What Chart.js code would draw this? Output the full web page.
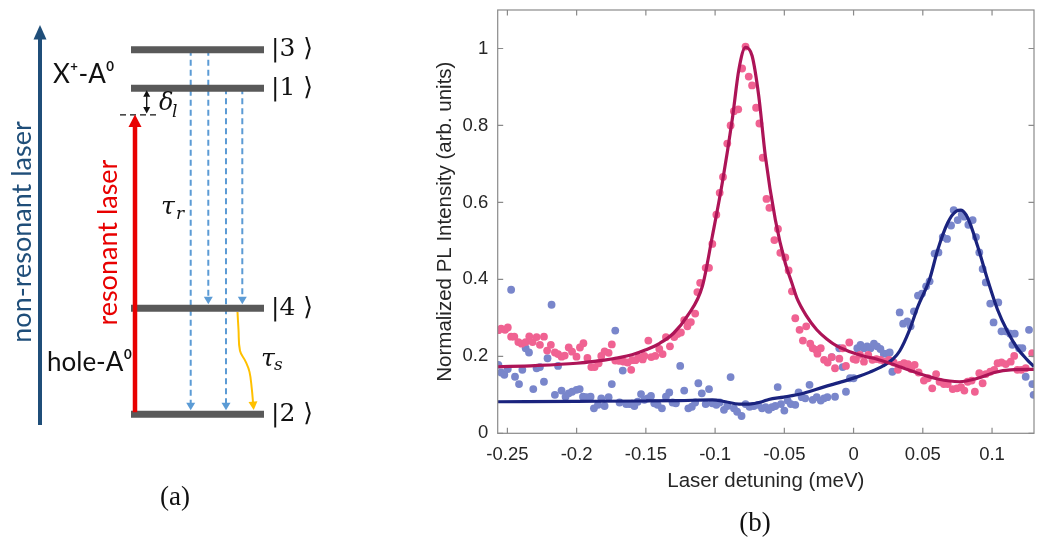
<!DOCTYPE html>
<html>
<head>
<meta charset="utf-8">
<script src="https://cdn.jsdelivr.net/npm/chart.js@4.4.1/dist/chart.umd.min.js"></script>
<style>
  html, body { margin: 0; padding: 0; background: #fff; }
  #wrap { position: relative; width: 1038px; height: 545px; overflow: hidden; }
  #diagram { position: absolute; left: 0; top: 0; width: 340px; height: 545px; }
  #plot { position: absolute; left: 400px; top: 0; width: 638px; height: 545px; }
  .cap { position: absolute; font-family: 'Liberation Serif', serif; font-size: 27px; color: #111;
         transform: translate(-50%, -50%); white-space: nowrap; }
</style>
</head>
<body>
<div id="wrap">
  <canvas id="diagram" width="340" height="545"></canvas>
  <canvas id="plot" width="638" height="545"></canvas>
  <div class="cap" style="left:175px;top:496px">(a)</div>
  <div class="cap" style="left:755px;top:522px">(b)</div>
</div>
<script>
// ---- panel (b) data: laser detuning (meV) vs normalized PL intensity ----
const xTicks = [-0.25, -0.2, -0.15, -0.1, -0.05, 0, 0.05, 0.1];
const yTicks = [0, 0.2, 0.4, 0.6, 0.8, 1];

// measured points, resonance 1 (pink)
const pinkX = [-0.2565, -0.2545, -0.2517, -0.2497, -0.2473, -0.2450, -0.2421, -0.2397, -0.2368, -0.2342,
  -0.2318, -0.2289, -0.2265, -0.2236, -0.2213, -0.2186, -0.2157, -0.2134, -0.2109, -0.2086,
  -0.2057, -0.2033, -0.2001, -0.1976, -0.1951, -0.1922, -0.1894, -0.1870, -0.1841, -0.1822,
  -0.1798, -0.1769, -0.1746, -0.1721, -0.1690, -0.1659, -0.1631, -0.1606, -0.1599, -0.1575,
  -0.1552, -0.1523, -0.1511, -0.1482, -0.1461, -0.1432, -0.1403, -0.1379, -0.1355, -0.1326,
  -0.1295, -0.1272, -0.1247, -0.1223, -0.1200, -0.1175, -0.1144, -0.1128, -0.1108, -0.1068,
  -0.1044, -0.1020, -0.0991, -0.0967, -0.0943, -0.0912, -0.0888, -0.0864, -0.0833, -0.0805,
  -0.0780, -0.0757, -0.0733, -0.0704, -0.0680, -0.0656, -0.0629, -0.0608, -0.0572, -0.0546,
  -0.0529, -0.0493, -0.0469, -0.0445, -0.0421, -0.0390, -0.0366, -0.0342, -0.0313, -0.0295,
  -0.0270, -0.0261, -0.0237, -0.0213, -0.0187, -0.0158, -0.0134, -0.0103, -0.0079, -0.0055,
  -0.0031, 0.0000, 0.0017, 0.0046, 0.0075, 0.0106, 0.0136, 0.0165, 0.0194, 0.0226,
  0.0256, 0.0290, 0.0320, 0.0335, 0.0364, 0.0393, 0.0417, 0.0441, 0.0470, 0.0508,
  0.0537, 0.0568, 0.0596, 0.0621, 0.0652, 0.0680, 0.0716, 0.0747, 0.0776, 0.0800,
  0.0824, 0.0853, 0.0876, 0.0908, 0.0932, 0.0955, 0.0987, 0.1016, 0.1040, 0.1068,
  0.1099, 0.1135, 0.1160, 0.1183, 0.1212, 0.1243, 0.1290];
const pinkY = [0.268, 0.272, 0.269, 0.275, 0.251, 0.251, 0.237, 0.233, 0.237, 0.252,
  0.237, 0.250, 0.230, 0.251, 0.215, 0.230, 0.210, 0.206, 0.199, 0.202,
  0.223, 0.212, 0.199, 0.223, 0.234, 0.196, 0.172, 0.172, 0.182, 0.201,
  0.213, 0.209, 0.231, 0.189, 0.188, 0.186, 0.184, 0.165, 0.190, 0.190,
  0.197, 0.192, 0.201, 0.241, 0.198, 0.201, 0.219, 0.206, 0.250, 0.226,
  0.250, 0.258, 0.262, 0.294, 0.278, 0.289, 0.311, 0.367, 0.391, 0.430,
  0.430, 0.492, 0.568, 0.625, 0.666, 0.753, 0.800, 0.837, 0.842, 0.948,
  1.005, 0.927, 0.904, 0.846, 0.805, 0.716, 0.609, 0.586, 0.502, 0.531,
  0.469, 0.457, 0.423, 0.369, 0.299, 0.269, 0.241, 0.278, 0.233, 0.221,
  0.217, 0.207, 0.221, 0.191, 0.184, 0.198, 0.169, 0.194, 0.221, 0.175,
  0.236, 0.193, 0.191, 0.204, 0.186, 0.204, 0.191, 0.193, 0.191, 0.186,
  0.191, 0.184, 0.165, 0.178, 0.182, 0.180, 0.167, 0.178, 0.158, 0.137,
  0.143, 0.117, 0.154, 0.134, 0.128, 0.128, 0.115, 0.117, 0.120, 0.111,
  0.134, 0.137, 0.108, 0.156, 0.130, 0.154, 0.160, 0.165, 0.182, 0.184,
  0.180, 0.186, 0.201, 0.165, 0.165, 0.169, 0.208];

// measured points, resonance 2 (blue)
const blueX = [-0.2565, -0.2545, -0.2522, -0.2497, -0.2473, -0.2445, -0.2416, -0.2392, -0.2368, -0.2344,
  -0.2313, -0.2289, -0.2265, -0.2236, -0.2210, -0.2181, -0.2157, -0.2134, -0.2109, -0.2080,
  -0.2057, -0.2033, -0.2001, -0.1978, -0.1954, -0.1930, -0.1899, -0.1875, -0.1846, -0.1822,
  -0.1798, -0.1769, -0.1746, -0.1721, -0.1690, -0.1667, -0.1642, -0.1619, -0.1600, -0.1583,
  -0.1559, -0.1535, -0.1511, -0.1487, -0.1463, -0.1439, -0.1415, -0.1384, -0.1355, -0.1331,
  -0.1307, -0.1283, -0.1252, -0.1223, -0.1193, -0.1168, -0.1144, -0.1121, -0.1096, -0.1068,
  -0.1044, -0.1020, -0.0991, -0.0967, -0.0936, -0.0912, -0.0888, -0.0864, -0.0841, -0.0809,
  -0.0780, -0.0751, -0.0721, -0.0690, -0.0661, -0.0635, -0.0613, -0.0589, -0.0565, -0.0548,
  -0.0524, -0.0500, -0.0476, -0.0453, -0.0421, -0.0397, -0.0374, -0.0349, -0.0318, -0.0295,
  -0.0266, -0.0237, -0.0213, -0.0189, -0.0158, -0.0134, -0.0103, -0.0079, -0.0055, -0.0026,
  0.0000, 0.0027, 0.0050, 0.0075, 0.0098, 0.0122, 0.0147, 0.0170, 0.0194, 0.0218,
  0.0242, 0.0261, 0.0280, 0.0333, 0.0358, 0.0388, 0.0412, 0.0436, 0.0465, 0.0494,
  0.0524, 0.0549, 0.0585, 0.0613, 0.0644, 0.0675, 0.0704, 0.0723, 0.0752, 0.0781,
  0.0800, 0.0829, 0.0860, 0.0884, 0.0908, 0.0932, 0.0955, 0.0987, 0.1011, 0.1045,
  0.1068, 0.1099, 0.1131, 0.1147, 0.1164, 0.1195, 0.1219, 0.1243, 0.1267, 0.1291, 0.1300];
const blueY = [0.178, 0.158, 0.152, 0.167, 0.373, 0.147, 0.128, 0.165, 0.221, 0.210,
  0.115, 0.169, 0.172, 0.134, 0.195, 0.334, 0.100, 0.175, 0.111, 0.095,
  0.104, 0.108, 0.113, 0.115, 0.095, 0.094, 0.095, 0.065, 0.074, 0.091,
  0.071, 0.094, 0.128, 0.267, 0.080, 0.163, 0.076, 0.076, 0.077, 0.071,
  0.082, 0.102, 0.087, 0.091, 0.097, 0.078, 0.074, 0.065, 0.095, 0.106,
  0.080, 0.078, 0.175, 0.111, 0.065, 0.069, 0.080, 0.130, 0.104, 0.076,
  0.115, 0.078, 0.074, 0.080, 0.061, 0.071, 0.146, 0.065, 0.056, 0.045,
  0.076, 0.069, 0.071, 0.074, 0.065, 0.068, 0.061, 0.068, 0.071, 0.120,
  0.076, 0.059, 0.085, 0.076, 0.074, 0.106, 0.094, 0.091, 0.126, 0.087,
  0.094, 0.085, 0.091, 0.094, 0.198, 0.095, 0.221, 0.172, 0.108, 0.143,
  0.143, 0.221, 0.230, 0.221, 0.226, 0.221, 0.233, 0.226, 0.219, 0.207,
  0.207, 0.210, 0.160, 0.314, 0.285, 0.291, 0.278, 0.317, 0.358, 0.363,
  0.382, 0.395, 0.467, 0.470, 0.510, 0.505, 0.540, 0.580, 0.554, 0.568,
  0.563, 0.542, 0.554, 0.510, 0.470, 0.427, 0.392, 0.337, 0.288, 0.340,
  0.265, 0.265, 0.259, 0.230, 0.259, 0.221, 0.221, 0.147, 0.269, 0.128, 0.100];

// fitted curves
const pinkFitX = [-0.257, -0.23, -0.20, -0.18, -0.16, -0.15, -0.14, -0.13, -0.12, -0.1092,
  -0.102, -0.0948, -0.0876, -0.0828, -0.078, -0.0733, -0.0685, -0.0637, -0.0565, -0.0493,
  -0.0445, -0.041, -0.0338, -0.0266, -0.0194, -0.0122, -0.0026, 0.007, 0.0165, 0.0261,
  0.034, 0.0465, 0.0608, 0.0764, 0.0896, 0.1016, 0.1135, 0.1303];
const pinkFitY = [0.173, 0.176, 0.182, 0.190, 0.204, 0.217, 0.234, 0.260, 0.305, 0.382,
  0.512, 0.651, 0.816, 0.946, 1.003, 0.981, 0.877, 0.720, 0.555, 0.442,
  0.390, 0.352, 0.304, 0.269, 0.245, 0.227, 0.212, 0.201, 0.193, 0.182,
  0.172, 0.156, 0.141, 0.134, 0.143, 0.158, 0.165, 0.166];

const blueFitX = [-0.257, -0.20, -0.15, -0.126, -0.102, -0.0924, -0.0828, -0.0757, -0.0661, -0.0613,
  -0.0505, -0.0361, -0.0218, -0.0074, 0.0022, 0.0118, 0.0213, 0.0285, 0.0333, 0.0400,
  0.0465, 0.0548, 0.0608, 0.068, 0.074, 0.0776, 0.0824, 0.0896, 0.0968, 0.104,
  0.1111, 0.1183, 0.1254, 0.1303];
const blueFitY = [0.082, 0.083, 0.084, 0.085, 0.087, 0.082, 0.076, 0.076, 0.082, 0.088,
  0.094, 0.104, 0.120, 0.135, 0.146, 0.159, 0.175, 0.193, 0.214, 0.265,
  0.330, 0.399, 0.477, 0.547, 0.577, 0.580, 0.560, 0.486, 0.399, 0.321,
  0.265, 0.221, 0.191, 0.173];

// ---- panel (a) data: level scheme (energy in arbitrary units) ----
const levelNames = ['|3 \u27E9', '|1 \u27E9', '|4 \u27E9', '|2 \u27E9'];
const levelEnergy = [3.44, 3.075, 1.0, 0];
const laserEnergy = 2.824;
// radiative transitions tau_r: [from level, to level]
const radiative = [['|3', '|2'], ['|3', '|4'], ['|1', '|2'], ['|1', '|4']];

const zip = (xs, ys) => xs.map((x, i) => ({ x: x, y: ys[i] }));
const levelOf = name => levelEnergy[levelNames.findIndex(n => n.startsWith(name))];

Chart.defaults.font.family = "'Liberation Sans', Arial, sans-serif";

// ---------- panel (a) ----------
const levelLeft = 131, levelRight = 264;
const transX = [190.7, 208.3, 226, 242.3];
const dashBlue = '#5b9bd5';
const navy = '#1f4e79';
const red = '#e80000';

const diagramSets = [];
// resonant laser (on top of the levels)
diagramSets.push({ data: [{ x: 135, y: 0.02 }, { x: 135, y: laserEnergy - 0.11 }], borderColor: red,
  borderWidth: 4.5, arrow: { len: 12, half: 6.5 } });
levelNames.forEach((n, i) => {
  diagramSets.push({ data: [{ x: levelLeft, y: levelEnergy[i] }, { x: levelRight, y: levelEnergy[i] }],
    borderColor: '#595959', borderWidth: 7 });
});
radiative.forEach((t, i) => {
  diagramSets.push({ data: [{ x: transX[i], y: levelOf(t[0]) }, { x: transX[i], y: levelOf(t[1]) + 0.105 }],
    borderColor: dashBlue, borderWidth: 2, borderDash: [6, 4], arrow: { len: 7, half: 4.5 } });
});
// spin relaxation tau_s (wavy)
diagramSets.push({ data: [{ x: 237.5, y: 0.965 }, { x: 238.5, y: 0.80 }, { x: 240, y: 0.60 }, { x: 245.5, y: 0.50 },
  { x: 249.5, y: 0.40 }, { x: 251.8, y: 0.24 }, { x: 253, y: 0.115 }],
  borderColor: '#ffc000', borderWidth: 2, tension: 0.4, arrow: { len: 8, half: 4.5 } });
// non-resonant laser
diagramSets.push({ data: [{ x: 40, y: -0.10 }, { x: 40, y: 3.54 }], borderColor: navy, borderWidth: 4,
  arrow: { len: 14, half: 6.5 } });
// laser energy (dashed) and detuning delta_l
diagramSets.push({ data: [{ x: 120, y: laserEnergy }, { x: 158, y: laserEnergy }], borderColor: '#111',
  borderWidth: 1.3, borderDash: [6, 4] });
diagramSets.push({ data: [{ x: 146.7, y: 3.0 }, { x: 146.7, y: 2.895 }], borderColor: '#111', borderWidth: 1.3,
  arrow: { len: 6, half: 3.5, both: true } });

diagramSets.forEach(ds => { ds.showLine = true; ds.pointRadius = 0; ds.borderCapStyle = 'butt'; });

const arrowHeads = {
  id: 'arrowHeads',
  afterDatasetsDraw(chart) {
    const ctx = chart.ctx;
    chart.data.datasets.forEach((ds, i) => {
      if (!ds.arrow) return;
      const pts = chart.getDatasetMeta(i).data;
      const head = (p, q) => {
        const ang = Math.atan2(p.y - q.y, p.x - q.x);
        ctx.save();
        ctx.translate(p.x, p.y);
        ctx.rotate(ang);
        ctx.beginPath();
        ctx.moveTo(ds.arrow.len, 0);
        ctx.lineTo(-0.5, -ds.arrow.half);
        ctx.lineTo(-0.5, ds.arrow.half);
        ctx.closePath();
        ctx.fillStyle = ds.borderColor;
        ctx.fill();
        ctx.restore();
      };
      const n = pts.length;
      head(pts[n - 1], pts[n - 2]);
      if (ds.arrow.both) head(pts[0], pts[1]);
    });
  }
};

const serif = "'DejaVu Serif', serif";
const diagramText = [
  { text: 'non-resonant laser', x: 22, y: 1.72, font: "27px Lato, 'Open Sans', sans-serif", color: navy, rot: true },
  { text: 'resonant laser', x: 108, y: 1.62, font: "27px Lato, 'Open Sans', sans-serif", color: red, rot: true },
  { text: 'X\u207A-A\u2070', x: 53, y: 3.2, font: "26px Lato, 'Open Sans', sans-serif", color: '#111', align: 'left' },
  { text: 'hole-A\u2070', x: 47, y: 0.49, font: "26px Lato, 'Open Sans', sans-serif", color: '#111', align: 'left' },
  { text: '\u03C4', x: 161, y: 1.95, font: 'italic 25px ' + serif, color: '#111', align: 'left' },
  { text: 'r', x: 176, y: 1.88, font: 'italic 17px ' + serif, color: '#111', align: 'left' },
  { text: '\u03C4', x: 261, y: 0.52, font: 'italic 25px ' + serif, color: '#111', align: 'left' },
  { text: 's', x: 274, y: 0.46, font: 'italic 17px ' + serif, color: '#111', align: 'left' },
  { text: '\u03B4', x: 159, y: 2.93, font: 'italic 24px ' + serif, color: '#111', align: 'left' },
  { text: 'l', x: 172, y: 2.85, font: 'italic 17px ' + serif, color: '#111', align: 'left' }
];
levelNames.forEach((n, i) => {
  diagramText.push({ text: n, x: 271, y: levelEnergy[i], font: '25px ' + serif, color: '#111', align: 'left' });
});

const diagramLabels = {
  id: 'diagramLabels',
  afterDraw(chart) {
    const { ctx, scales: { x, y } } = chart;
    diagramText.forEach(t => {
      ctx.save();
      ctx.font = t.font;
      ctx.fillStyle = t.color;
      ctx.textBaseline = 'middle';
      ctx.translate(x.getPixelForValue(t.x), y.getPixelForValue(t.y));
      if (t.rot) {
        ctx.rotate(-Math.PI / 2);
        ctx.textAlign = 'center';
      } else {
        ctx.textAlign = t.align || 'center';
      }
      ctx.fillText(t.text, 0, 0);
      ctx.restore();
    });
  }
};

new Chart(document.getElementById('diagram'), {
  type: 'scatter',
  data: { datasets: diagramSets },
  options: {
    responsive: false,
    animation: false,
    layout: { padding: 0 },
    plugins: { legend: { display: false }, tooltip: { enabled: false } },
    scales: {
      x: { display: false, min: 0, max: 340 },
      y: { display: false, min: -1.233, max: 3.9085 }
    }
  },
  plugins: [arrowHeads, diagramLabels]
});

// ---------- panel (b) ----------
const axisColor = '#8a8a8a';
const textColor = '#262626';
const fmt = v => String(Math.round(v * 100) / 100);

// MATLAB-like box with inward ticks
const boxTicks = {
  id: 'boxTicks',
  afterDraw(chart) {
    const { ctx, chartArea: a, scales: { x, y } } = chart;
    const L = 5.5;
    ctx.save();
    ctx.strokeStyle = axisColor;
    ctx.lineWidth = 1.2;
    ctx.strokeRect(a.left, a.top, a.right - a.left, a.bottom - a.top);
    ctx.beginPath();
    xTicks.forEach(v => {
      const px = x.getPixelForValue(v);
      ctx.moveTo(px, a.bottom); ctx.lineTo(px, a.bottom - L);
      ctx.moveTo(px, a.top); ctx.lineTo(px, a.top + L);
    });
    yTicks.forEach(v => {
      const py = y.getPixelForValue(v);
      ctx.moveTo(a.left, py); ctx.lineTo(a.left + L, py);
      ctx.moveTo(a.right, py); ctx.lineTo(a.right - L, py);
    });
    ctx.stroke();
    ctx.restore();
  }
};

new Chart(document.getElementById('plot'), {
  type: 'scatter',
  data: {
    datasets: [
      { label: 'Fit 1', data: zip(pinkFitX, pinkFitY), showLine: true, borderColor: '#ad1457', borderWidth: 3.2,
        pointRadius: 0, cubicInterpolationMode: 'monotone' },
      { label: 'Fit 2', data: zip(blueFitX, blueFitY), showLine: true, borderColor: '#1a237e', borderWidth: 3.2,
        pointRadius: 0, cubicInterpolationMode: 'monotone' },
      { label: 'Data 1', data: zip(pinkX, pinkY), backgroundColor: '#f06292', borderColor: '#f06292',
        pointRadius: 3.9, pointBorderWidth: 0 },
      { label: 'Data 2', data: zip(blueX, blueY), backgroundColor: '#7986cb', borderColor: '#7986cb',
        pointRadius: 3.9, pointBorderWidth: 0 }
    ]
  },
  options: {
    responsive: false,
    animation: false,
    layout: { padding: { left: 29, top: 10, right: -2.4, bottom: 51 } },
    plugins: { legend: { display: false }, tooltip: { enabled: false } },
    scales: {
      x: {
        type: 'linear', min: -0.257, max: 0.1303,
        afterBuildTicks: s => { s.ticks = xTicks.map(v => ({ value: v })); },
        afterFit: s => { s.height = 60.7; s.paddingLeft = 0; s.paddingRight = 0; },
        grid: { display: false, drawTicks: false },
        border: { display: false },
        ticks: { padding: 11, color: textColor, font: { size: 18.5 }, maxRotation: 0, callback: v => fmt(v) },
        title: { display: true, text: 'Laser detuning (meV)', color: textColor, font: { size: 20.5 },
          padding: { top: 0, bottom: 0 } }
      },
      y: {
        type: 'linear', min: 0, max: 1.1,
        afterBuildTicks: s => { s.ticks = yTicks.map(v => ({ value: v })); },
        afterFit: s => { s.width = 68.7; s.paddingTop = 0; s.paddingBottom = 0; },
        grid: { display: false, drawTicks: false },
        border: { display: false },
        ticks: { padding: 9.5, color: textColor, font: { size: 18.5 }, callback: v => fmt(v) },
        title: { display: true, text: 'Normalized PL Intensity (arb. units)', color: textColor,
          font: { size: 20.5 }, padding: { top: 4, bottom: 0 } }
      }
    }
  },
  plugins: [boxTicks]
});
</script>
</body>
</html>
